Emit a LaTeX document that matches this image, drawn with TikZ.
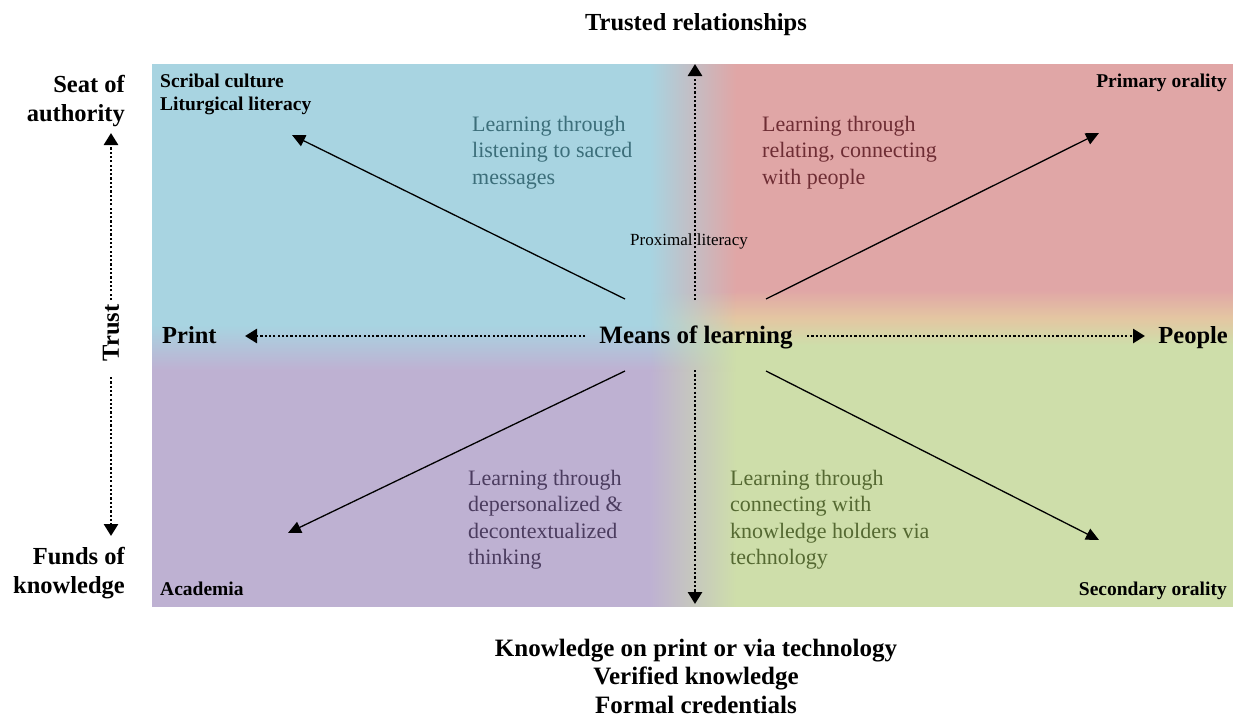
\documentclass[tikz,border=0pt]{standalone}
\usepackage{fontspec}
\setmainfont{Liberation Serif}
\usetikzlibrary{arrows.meta,fadings}
\definecolor{cblu}{RGB}{168,212,225}
\definecolor{cred}{RGB}{224,166,166}
\definecolor{cpur}{RGB}{190,177,210}
\definecolor{cgrn}{RGB}{206,222,170}
\definecolor{cpch}{RGB}{228,198,162}
\definecolor{cmidt}{RGB}{201,203,216}
\definecolor{cmidb}{RGB}{198,199,208}
\definecolor{tblu}{RGB}{60,110,122}
\definecolor{tred}{RGB}{110,45,52}
\definecolor{tpur}{RGB}{75,60,95}
\definecolor{tgrn}{RGB}{85,105,50}
\pgfdeclareverticalshading{leftcol}{100bp}{color(0bp)=(cpur); color(46.77bp)=(cpur); color(50.92bp)=(cblu); color(100bp)=(cblu)}
\pgfdeclareverticalshading{rightcol}{100bp}{color(0bp)=(cgrn); color(49.08bp)=(cgrn); color(51.57bp)=(cpch); color(54.15bp)=(cred); color(100bp)=(cred)}
\tikzfading[name=fadein, left color=transparent!100, right color=transparent!0]
\begin{document}
\begin{tikzpicture}[x=1pt,y=-1pt,
  big/.style={font=\fontsize{24.5}{29}\selectfont\bfseries, inner sep=0pt},
  corner/.style={font=\fontsize{19.5}{23}\selectfont\bfseries, inner sep=0pt},
  quad/.style={font=\fontsize{22}{26.5}\selectfont, inner sep=0pt, align=left, anchor=north west},
  dotax/.style={line width=2.7pt, dash pattern=on 2.2pt off 2.1pt, -{Triangle[length=12pt,width=14pt]}},
  diag/.style={line width=1.3pt, -{Triangle[length=13pt,width=12pt]}}]
\useasboundingbox (0,0) rectangle (1233,717);
% background quadrants
\path[shading=leftcol] (152,64) rectangle (740,606);
\path[shading=rightcol, path fading=fadein] (650,64) rectangle (736,606);
\path[shading=rightcol] (736,64) rectangle (1233,606);
\path[left color=cblu, middle color=cmidt, right color=cred] (650,64) rectangle (736,292);
\path[left color=cpur, middle color=cmidb, right color=cgrn] (650,372) rectangle (736,606);
% axis labels
\node[big, anchor=base] (top) at (696,31) {Trusted relationships};
\node[big, align=center, anchor=north, font=\fontsize{25}{28.3}\selectfont\bfseries] (bottom) at (696,639)
  {Knowledge on print or via technology\\Verified knowledge\\Formal credentials};
\node[big, anchor=base] (mol) at (696,343) {\fontsize{25}{29}\selectfont Means of learning};
\node[big, anchor=base west] (print) at (162,343) {Print};
\node[big, anchor=base east] (people) at (1228,343) {People};
\node[big, align=right, anchor=north east] (seat) at (125,75) {Seat of\\authority};
\node[big, align=right, anchor=north east] (funds) at (125,547) {Funds of\\knowledge};
\node[big, rotate=90] (trust) at (111,333) {Trust};
\node[font=\fontsize{17}{20}\selectfont, anchor=base, inner sep=0pt] (prox) at (689,245) {Proximal literacy};
% corner labels
\node[corner, align=left, anchor=north west] (scribal) at (160,74) {Scribal culture\\Liturgical literacy};
\node[corner, anchor=north east] (primary) at (1227,74) {Primary orality};
\node[corner, anchor=base west] (academia) at (160,595) {Academia};
\node[corner, anchor=base east] (secondary) at (1227,595) {Secondary orality};
% quadrant texts
\node[quad, text=tblu] (qtl) at (472,116) {Learning through\\listening to sacred\\messages};
\node[quad, text=tred] (qtr) at (762,116) {Learning through\\relating, connecting\\with people};
\node[quad, text=tpur] (qbl) at (468,470) {Learning through\\depersonalized \&\\decontextualized\\thinking};
\node[quad, text=tgrn] (qbr) at (730,470) {Learning through\\connecting with\\knowledge holders via\\technology};
% coordinates
\coordinate (hlS) at (585,336); \coordinate (hlT) at (245,336);
\coordinate (hrS) at (807,336); \coordinate (hrT) at (1145,336);
\coordinate (vuS) at (695,300); \coordinate (vuT) at (695,64);
\coordinate (vdS) at (695,370); \coordinate (vdT) at (695,604);
\coordinate (tuS) at (111,300); \coordinate (tuT) at (111,133);
\coordinate (tdS) at (111,377); \coordinate (tdT) at (111,536);
\coordinate (ulS) at (625,299); \coordinate (ulT) at (292,135);
\coordinate (urS) at (766,299); \coordinate (urT) at (1099,133);
\coordinate (llS) at (625,371); \coordinate (llT) at (288,533);
\coordinate (lrS) at (766,371); \coordinate (lrT) at (1099,540);
% dotted axes
\draw[dotax] (hlS) -- (hlT);
\draw[dotax] (hrS) -- (hrT);
\draw[dotax] (vuS) -- (vuT);
\draw[dotax] (vdS) -- (vdT);
\draw[dotax] (tuS) -- (tuT);
\draw[dotax] (tdS) -- (tdT);
% diagonals
\draw[diag] (ulS) -- (ulT);
\draw[diag] (urS) -- (urT);
\draw[diag] (llS) -- (llT);
\draw[diag] (lrS) -- (lrT);
\end{tikzpicture}
\end{document}
